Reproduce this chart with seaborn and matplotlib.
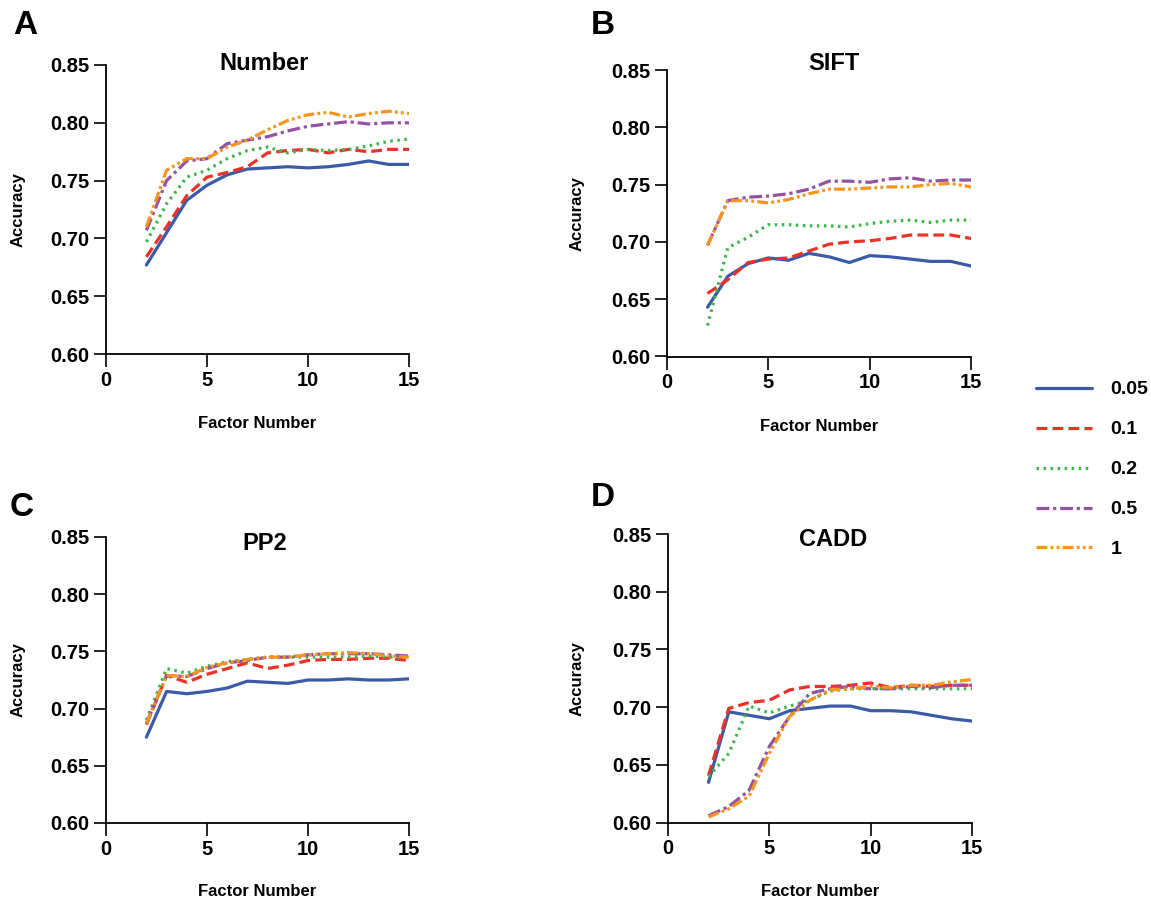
import matplotlib
matplotlib.use("Agg")
import matplotlib.pyplot as plt
import seaborn as sns
import pandas as pd

# ---------------- data ----------------
factors = list(range(2, 16))
levels = ["0.05", "0.1", "0.2", "0.5", "1"]
panel_titles = ["Number", "SIFT", "PP2", "CADD"]
panel_letters = ["A", "B", "C", "D"]
y_ticks = [0.60, 0.65, 0.70, 0.75, 0.80, 0.85]
x_ticks = [0, 5, 10, 15]

number_005 = [0.677, 0.705, 0.733, 0.746, 0.755, 0.760, 0.761, 0.762, 0.761, 0.762, 0.764, 0.767, 0.764, 0.764]
number_01 = [0.684, 0.710, 0.737, 0.753, 0.757, 0.762, 0.774, 0.776, 0.777, 0.774, 0.777, 0.775, 0.777, 0.777]
number_02 = [0.697, 0.730, 0.753, 0.759, 0.769, 0.776, 0.779, 0.774, 0.777, 0.776, 0.777, 0.780, 0.784, 0.786]
number_05 = [0.707, 0.750, 0.767, 0.769, 0.782, 0.785, 0.788, 0.793, 0.797, 0.799, 0.801, 0.799, 0.800, 0.800]
number_1 = [0.710, 0.759, 0.769, 0.769, 0.779, 0.785, 0.794, 0.802, 0.807, 0.809, 0.805, 0.808, 0.810, 0.808]

sift_005 = [0.643, 0.670, 0.681, 0.686, 0.684, 0.690, 0.687, 0.682, 0.688, 0.687, 0.685, 0.683, 0.683, 0.679]
sift_01 = [0.655, 0.667, 0.682, 0.685, 0.686, 0.692, 0.698, 0.700, 0.701, 0.703, 0.706, 0.706, 0.706, 0.703]
sift_02 = [0.627, 0.695, 0.704, 0.715, 0.715, 0.714, 0.714, 0.713, 0.716, 0.718, 0.719, 0.717, 0.719, 0.719]
sift_05 = [0.697, 0.736, 0.739, 0.740, 0.742, 0.746, 0.753, 0.753, 0.752, 0.755, 0.756, 0.753, 0.754, 0.754]
sift_1 = [0.697, 0.736, 0.736, 0.734, 0.737, 0.742, 0.746, 0.746, 0.747, 0.748, 0.748, 0.750, 0.751, 0.748]

pp2_005 = [0.675, 0.715, 0.713, 0.715, 0.718, 0.724, 0.723, 0.722, 0.725, 0.725, 0.726, 0.725, 0.725, 0.726]
pp2_01 = [0.686, 0.729, 0.723, 0.730, 0.735, 0.740, 0.735, 0.738, 0.742, 0.743, 0.743, 0.744, 0.744, 0.742]
pp2_02 = [0.690, 0.735, 0.731, 0.737, 0.741, 0.743, 0.745, 0.745, 0.745, 0.745, 0.745, 0.746, 0.745, 0.745]
pp2_05 = [0.687, 0.729, 0.728, 0.735, 0.740, 0.742, 0.745, 0.745, 0.747, 0.748, 0.748, 0.748, 0.747, 0.746]
pp2_1 = [0.687, 0.729, 0.728, 0.736, 0.740, 0.743, 0.745, 0.745, 0.747, 0.748, 0.749, 0.748, 0.746, 0.745]

cadd_005 = [0.635, 0.696, 0.693, 0.690, 0.697, 0.699, 0.701, 0.701, 0.697, 0.697, 0.696, 0.693, 0.690, 0.688]
cadd_01 = [0.641, 0.699, 0.704, 0.706, 0.715, 0.718, 0.718, 0.719, 0.721, 0.717, 0.719, 0.718, 0.719, 0.719]
cadd_02 = [0.640, 0.660, 0.701, 0.695, 0.701, 0.706, 0.714, 0.716, 0.716, 0.716, 0.716, 0.716, 0.716, 0.716]
cadd_05 = [0.606, 0.614, 0.628, 0.666, 0.692, 0.712, 0.716, 0.718, 0.716, 0.716, 0.718, 0.717, 0.719, 0.719]
cadd_1 = [0.605, 0.612, 0.623, 0.660, 0.692, 0.706, 0.715, 0.716, 0.718, 0.717, 0.719, 0.719, 0.722, 0.724]

panels = {
    "Number": [number_005, number_01, number_02, number_05, number_1],
    "SIFT": [sift_005, sift_01, sift_02, sift_05, sift_1],
    "PP2": [pp2_005, pp2_01, pp2_02, pp2_05, pp2_1],
    "CADD": [cadd_005, cadd_01, cadd_02, cadd_05, cadd_1],
}

# ---------------- style ----------------
sns.set_style("ticks")
plt.rcParams["font.family"] = ["Liberation Sans", "DejaVu Sans"]
plt.rcParams["font.weight"] = "bold"
plt.rcParams["text.color"] = "black"
plt.rcParams["axes.labelcolor"] = "black"

palette = {"0.05": "#3b5ba9", "0.1": "#ec3228", "0.2": "#3db54a", "0.5": "#9352a2", "1": "#f7941d"}
dashes = {"0.05": "", "0.1": (3.4, 1.6), "0.2": (0.8, 1.4),
          "0.5": (4.0, 1.2, 1.0, 1.2), "1": (3.4, 1.0, 0.9, 1.0, 0.9, 1.0)}

fig = plt.figure(figsize=(11.51, 9.02), dpi=100)
W, H = 1151, 902

# axes pixel boxes: (left, right, top, bottom)
boxes = [(106, 409, 65, 354), (667, 971, 70, 356.5), (106, 409, 537, 823), (668, 972, 534, 822.7)]
title_pos = [(264, 63), (834, 63), (265, 543), (833, 540)]
letter_pos = [(25, 26), (603, 25), (22, 507), (603, 497)]
xlabel_top = [416, 419, 884, 884]
ylabel_right = [26, 585, 26, 585]

for i, name in enumerate(panel_titles):
    l, r, t, b = boxes[i]
    ax = fig.add_axes([l / W, 1 - b / H, (r - l) / W, (b - t) / H])
    rows = []
    for lev, vals in zip(levels, panels[name]):
        for f, v in zip(factors, vals):
            rows.append({"Factor Number": f, "Accuracy": v, "level": lev})
    df = pd.DataFrame(rows)
    sns.lineplot(data=df, x="Factor Number", y="Accuracy", hue="level", style="level",
                 hue_order=levels, style_order=levels, palette=palette, dashes=dashes,
                 linewidth=2.3, ax=ax, legend=(i == 0))
    ax.set_xlim(0, 15)
    ax.set_ylim(0.60, 0.85)
    ax.set_xticks(x_ticks)
    ax.set_yticks(y_ticks)
    ax.set_yticklabels([f"{v:.2f}" for v in y_ticks])
    for sp in ["top", "right"]:
        ax.spines[sp].set_visible(False)
    for sp in ["left", "bottom"]:
        ax.spines[sp].set_linewidth(1.3)
        ax.spines[sp].set_color("black")
        ax.spines[sp].set_clip_on(False)
    ax.tick_params(axis="both", length=9, width=1.2, colors="black", labelsize=14.5, pad=3)
    for lab in ax.get_xticklabels() + ax.get_yticklabels():
        lab.set_fontweight("bold")
    ax.set_xlabel("Factor Number", fontsize=12, fontweight="bold", color="black")
    ax.set_ylabel("Accuracy", fontsize=12, fontweight="bold", color="black")
    ax.xaxis.set_label_coords(0.5, (b - xlabel_top[i]) / (b - t))
    ax.yaxis.set_label_coords((ylabel_right[i] - l) / (r - l), 0.5)
    tx, ty = title_pos[i]
    fig.text(tx / W, 1 - ty / H, name, fontsize=17, fontweight="bold", ha="center", va="center", color="black")
    lx, ly = letter_pos[i]
    fig.text(lx / W, 1 - ly / H, panel_letters[i], fontsize=24, fontweight="bold", ha="center", va="center", color="black")
    if i == 0:
        handles, labels = ax.get_legend_handles_labels()
        ax.get_legend().remove()

leg = fig.legend(handles, labels, loc="upper left", bbox_to_anchor=(1028 / W, 1 - 373 / H),
                 frameon=False, fontsize=14, handlelength=2.9, handletextpad=0.95,
                 labelspacing=1.15, borderaxespad=0)
for txt in leg.get_texts():
    txt.set_fontweight("bold")
    txt.set_color("black")
for ln in leg.get_lines():
    ln.set_linewidth(2.3)

fig.savefig("out.png", dpi=100)
